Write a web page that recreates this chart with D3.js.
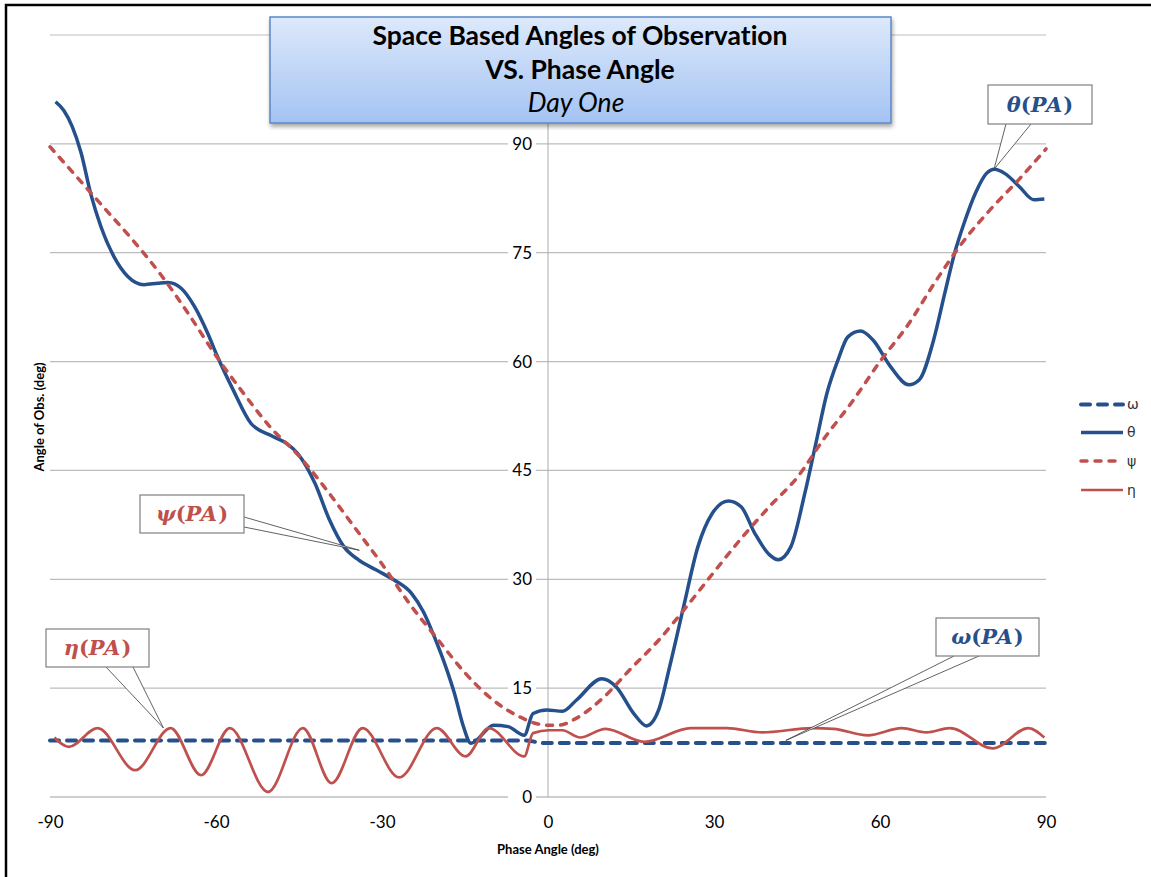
<!DOCTYPE html>
<html>
<head>
<meta charset="utf-8">
<script src="https://cdn.jsdelivr.net/npm/d3@7"></script>
<style>
  body { margin: 0; background: #fff; }
  svg { display: block; font-variant-ligatures: none; }
</style>
</head>
<body>
<svg id="chart"></svg>
<script>
// series values, [phase angle, angle of obs]
const omega = [[-90, 7.8], [-45, 7.8], [-4, 7.8], [-1, 7.45], [45, 7.45], [90, 7.45]];

const theta = [
    [-89, 95.8], [-87.5, 94.6], [-86, 92.4], [-84.4, 88.8], [-82.6, 83.0], [-80.8, 78.6], [-78.4, 74.4],
    [-75.9, 71.7], [-73, 70.6], [-70.5, 70.8], [-68.7, 70.9], [-66.3, 70.1], [-63.9, 67.6], [-61.5, 63.9],
    [-59.8, 60.8], [-56.9, 56.1], [-53.7, 51.5], [-49.8, 49.7], [-47.2, 48.7], [-45.3, 47.4], [-42.1, 43.2],
    [-39.5, 38.2], [-36.9, 34.5], [-34.3, 32.7], [-31.1, 31.3], [-27.8, 29.9], [-24.6, 28.0], [-22.5, 25.5],
    [-20.5, 22.0], [-18.5, 18.0], [-16.8, 14.0], [-15.4, 10.0], [-13.9, 7.4], [-9.8, 9.9], [-7.2, 9.7],
    [-4.3, 8.5], [-2.7, 11.5], [-0.2, 12.0], [2.6, 11.8], [5.2, 13.4], [9.7, 16.3], [12.3, 15.2],
    [15.5, 11.5], [17.8, 9.8], [20.0, 12.0], [22.0, 18.0], [24.5, 26.2], [27.1, 34.5], [29.7, 39.1],
    [32.6, 40.8], [34.9, 40.0], [37.4, 36.3], [40.0, 33.4], [41.6, 32.7], [43.9, 34.5], [46.4, 41.8],
    [48.4, 48.7], [50.4, 55.6], [52.4, 60.2], [54.2, 63.4], [56.5, 64.2], [58.7, 63.0], [61.9, 59.3],
    [65.2, 56.8], [67.1, 57.5], [69.7, 63.0], [71.7, 69.4], [73.5, 75.0], [75.3, 79.3], [77.3, 83.3],
    [79.2, 85.9], [80.7, 86.5], [82.6, 85.9], [85.2, 84.1], [87.8, 82.3], [89.7, 82.4]
];

const psi = [
    [-90, 89.6], [-85, 85.3], [-80, 81.0], [-75, 76.7], [-70, 72.0], [-65, 66.6], [-60, 60.8],
    [-55, 55.6], [-50, 50.8], [-45, 47.0], [-40, 42.3], [-35, 37.2], [-30, 32.1], [-25, 26.6],
    [-20, 21.8], [-15, 17.1], [-10, 13.4], [-5, 11], [-2, 10.1], [0, 9.9], [2, 9.9], [5, 10.8],
    [10, 13.7], [15, 17.7], [20, 21.6], [25, 26.2], [30, 31], [35, 35.7], [40, 40], [45, 44],
    [50, 49.5], [55, 54.5], [60, 60], [65, 65], [70, 71], [75, 76.5], [80, 81], [85, 85], [90, 89.3]
];

const eta = [
    [-89.2, 8.2], [-86.6, 6.9], [-81.4, 9.5], [-74.6, 3.7], [-68.2, 9.5], [-62.7, 3.0], [-57.5, 9.5],
    [-50.6, 0.7], [-44.3, 9.5], [-39.1, 1.9], [-33.5, 9.5], [-26.9, 2.7], [-20.1, 9.5], [-14.9, 5.6],
    [-10.7, 9.5], [-4.3, 5.6], [-2.7, 8.8], [0.2, 9.2], [2.6, 9.2], [5.8, 8.2], [10.4, 9.4], [17.4, 7.6],
    [25.8, 9.5], [32.3, 9.5], [38.7, 8.9], [47.8, 9.5], [51.6, 9.4], [57.8, 8.5], [63.9, 9.5],
    [68.4, 8.9], [72.6, 9.5], [80.4, 6.7], [86.8, 9.5], [89.7, 8.2]
];

const xTicks = [-90, -60, -30, 0, 30, 60, 90];
const yTicks = [0, 15, 30, 45, 60, 75, 90];
const yGrid = [0, 15, 30, 45, 60, 75, 90, 105];

const legendLabels = ['ω', 'θ', 'ψ', 'η'];
const titleLines = ['Space Based Angles of Observation', 'VS. Phase Angle', 'Day One'];

const blue = '#25508c';
const red = '#c0504d';

const width = 1151;
const height = 877;

const svg = d3.select('#chart')
    .attr('width', width)
    .attr('height', height)
    .style('font-family', 'Lato, "Open Sans", sans-serif');

// outer frame (only top/left visible in the crop)
svg.append('rect')
    .attr('x', 6).attr('y', 5)
    .attr('width', 1300).attr('height', 1000)
    .attr('fill', '#fff')
    .attr('stroke', '#000')
    .attr('stroke-width', 2.5);

const x = d3.scaleLinear().domain([-90, 90]).range([50, 1046]);
const y = d3.scaleLinear().domain([0, 105]).range([797, 35]);

// gridlines
svg.append('g')
    .selectAll('line')
    .data(yGrid)
    .enter().append('line')
    .attr('x1', x(-90)).attr('x2', x(90))
    .attr('y1', d => y(d)).attr('y2', d => y(d))
    .attr('stroke', d => d === 0 ? '#cfcfcf' : '#bdbdbd')
    .attr('stroke-width', d => d === 0 ? 2 : 1.2);

// vertical axis through 0
svg.append('line')
    .attr('x1', x(0)).attr('x2', x(0))
    .attr('y1', y(105)).attr('y2', y(0))
    .attr('stroke', '#ababab')
    .attr('stroke-width', 1);

// y axis labels, with white backing so the gridlines break behind them
const yAxis = svg.append('g')
    .attr('transform', `translate(${x(0) - 16},0)`)
    .call(d3.axisLeft(y).tickValues(yTicks).tickSize(0).tickPadding(0));
yAxis.select('.domain').remove();
yAxis.selectAll('.tick').insert('rect', 'text')
    .attr('x', -24).attr('y', -9)
    .attr('width', 28).attr('height', 18)
    .attr('fill', '#fff');
yAxis.selectAll('text')
    .attr('x', 0)
    .style('font-family', 'Lato, sans-serif')
    .style('font-size', '17px')
    .style('fill', '#000');

// x axis labels (plain hyphen minus like the original)
const xAxis = svg.append('g')
    .attr('transform', `translate(0,${y(0) + 19})`)
    .call(d3.axisBottom(x).tickValues(xTicks).tickSize(0).tickPadding(0).tickFormat(d => String(d)));
xAxis.select('.domain').remove();
xAxis.selectAll('text')
    .style('font-family', 'Lato, sans-serif')
    .style('font-size', '17px')
    .style('fill', '#000');

// axis titles
svg.append('text')
    .attr('x', x(0))
    .attr('y', 854)
    .attr('text-anchor', 'middle')
    .style('font-size', '13px')
    .style('font-weight', '700')
    .text('Phase Angle (deg)');

svg.append('text')
    .attr('transform', 'rotate(-90)')
    .attr('x', -417)
    .attr('y', 44)
    .attr('text-anchor', 'middle')
    .style('font-size', '13px')
    .style('font-weight', '700')
    .text('Angle of Obs. (deg)');

// series
const line = d3.line()
    .x(d => x(d[0]))
    .y(d => y(d[1]))
    .curve(d3.curveMonotoneX);

const series = [
    { data: omega, color: blue, width: 4, dash: '9,8' },
    { data: theta, color: blue, width: 3.5, dash: null },
    { data: psi, color: red, width: 3.5, dash: '6,8' },
    { data: eta, color: red, width: 2.7, dash: null }
];

svg.append('g')
    .selectAll('path')
    .data(series)
    .enter().append('path')
    .attr('d', d => line(d.data))
    .attr('fill', 'none')
    .attr('stroke', d => d.color)
    .attr('stroke-width', d => d.width)
    .attr('stroke-dasharray', d => d.dash)
    .attr('stroke-linecap', d => d.dash ? 'round' : 'butt')
    .attr('stroke-linejoin', 'round');

// legend
const legend = svg.append('g')
    .selectAll('g')
    .data(series)
    .enter().append('g')
    .attr('transform', (d, i) => `translate(1081,${[404.5, 432.5, 461, 490][i]})`);

legend.append('line')
    .attr('x1', 0).attr('x2', 42)
    .attr('stroke', d => d.color)
    .attr('stroke-width', d => d.width)
    .attr('stroke-dasharray', d => d.dash)
    .attr('stroke-linecap', d => d.dash ? 'round' : 'butt');

legend.append('text')
    .attr('x', 46)
    .attr('dy', '0.35em')
    .style('font-family', '"DejaVu Sans", sans-serif')
    .style('font-size', '14px')
    .style('fill', '#333')
    .text((d, i) => legendLabels[i]);

// callouts
const callouts = [
    { sym: 'θ', color: blue, tip: [80.6, 86.5], box: [988, 85, 104, 39], base: [[1006, 124], [1031, 124]] },
    { sym: 'ψ', color: red, tip: [-34.1, 34.0], box: [140, 495, 104, 38], base: [[244, 517], [244, 527]] },
    { sym: 'η', color: red, tip: [-69.5, 9.5], box: [46, 629, 103, 38], base: [[106, 667], [133, 667]] },
    { sym: 'ω', color: blue, tip: [43, 7.8], box: [936, 618, 103, 38], base: [[954, 656], [979, 656]] }
];

const co = svg.append('g')
    .selectAll('g')
    .data(callouts)
    .enter().append('g');

co.append('path')
    .attr('d', d => `M${d.base[0][0]},${d.base[0][1]}L${x(d.tip[0])},${y(d.tip[1])}L${d.base[1][0]},${d.base[1][1]}`)
    .attr('fill', '#fff')
    .attr('stroke', '#3a3a3a')
    .attr('stroke-width', 0.8);

co.append('rect')
    .attr('x', d => d.box[0]).attr('y', d => d.box[1])
    .attr('width', d => d.box[2]).attr('height', d => d.box[3])
    .attr('fill', '#fff')
    .attr('stroke', '#7f7f7f')
    .attr('stroke-width', 1.2);

const label = co.append('text')
    .attr('x', d => d.box[0] + d.box[2] / 2)
    .attr('y', d => d.box[1] + d.box[3] / 2 + 7)
    .attr('text-anchor', 'middle')
    .style('font-family', '"DejaVu Serif", "Liberation Serif", serif')
    .style('font-size', '21px')
    .style('font-weight', '700')
    .style('fill', d => d.color);

label.append('tspan').style('font-style', 'italic').text(d => d.sym);
label.append('tspan').text('(');
label.append('tspan').style('font-style', 'italic').attr('letter-spacing', 1).text('PA');
label.append('tspan').text(')');

// title box
const defs = svg.append('defs');
const grad = defs.append('linearGradient')
    .attr('id', 'titleFill')
    .attr('x1', 0).attr('y1', 0).attr('x2', 0).attr('y2', 1);
grad.append('stop').attr('offset', '0%').attr('stop-color', '#dde9fb');
grad.append('stop').attr('offset', '100%').attr('stop-color', '#a4c3f3');

const shadow = defs.append('filter').attr('id', 'shadow')
    .attr('x', '-5%').attr('y', '-10%').attr('width', '110%').attr('height', '130%');
shadow.append('feDropShadow')
    .attr('dx', 1).attr('dy', 3)
    .attr('stdDeviation', 2)
    .attr('flood-color', '#000')
    .attr('flood-opacity', 0.35);

svg.append('rect')
    .attr('x', 270).attr('y', 17)
    .attr('width', 621).attr('height', 106)
    .attr('fill', 'url(#titleFill)')
    .attr('stroke', '#5a88c8')
    .attr('stroke-width', 1.5)
    .attr('filter', 'url(#shadow)');

svg.append('g')
    .selectAll('text')
    .data(titleLines)
    .enter().append('text')
    .attr('x', (d, i) => i === 2 ? 576 : 580)
    .attr('y', (d, i) => [45, 79, 112][i])
    .attr('text-anchor', 'middle')
    .style('font-size', '26.5px')
    .style('font-weight', (d, i) => i === 2 ? '400' : '700')
    .style('font-style', (d, i) => i === 2 ? 'italic' : 'normal')
    .style('fill', '#000')
    .text(d => d);
</script>
</body>
</html>
